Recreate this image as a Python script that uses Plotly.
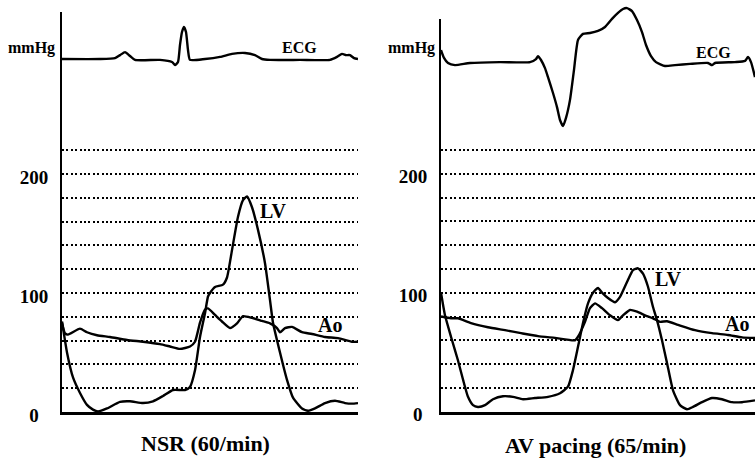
import plotly.graph_objects as go

# ---------------- data ----------------
# Left panel: NSR (60/min); time in ms, pressure in mmHg
nsr_lv_t = [0, 20, 44, 72, 100, 124, 144, 180, 232, 272, 324, 364, 404, 444, 492, 512, 532, 552, 572, 584,
            592, 612, 644, 660, 680, 704, 724, 740, 760, 784, 812, 832, 844, 872, 900, 924, 960, 984, 1012,
            1052, 1092, 1132, 1160, 1184]
nsr_lv_p = [76, 50, 29, 16, 6, 2, 0.5, 3, 8.5, 9, 7.5, 9, 13.5, 18.5, 18.5, 21, 35, 63, 83, 97,
            100, 105, 107, 113, 136, 164, 178, 181, 172, 153, 125, 94, 75, 50, 27, 12, 3, 1, 3,
            7.5, 9.5, 7.5, 7, 7.5]
nsr_ao_t = [0, 12, 24, 72, 100, 140, 192, 260, 324, 392, 432, 472, 512, 532, 552, 572, 584, 612, 640, 672,
            700, 724, 760, 800, 832, 860, 872, 892, 920, 960, 1000, 1052, 1104, 1160, 1184]
nsr_ao_p = [75, 66, 65, 70, 67, 64.5, 63, 60.5, 59, 57, 55, 53, 55, 59, 75, 86, 87, 81.5, 76, 70.5,
            74.5, 80.5, 79, 76.5, 74.5, 70.5, 67, 70.5, 71.5, 67, 65.5, 63, 62, 59, 59]
nsr_ecg_t = [0, 152, 212, 232, 252, 272, 292, 392, 440, 452, 464, 472, 480, 488, 496, 504, 512, 572, 632,
             680, 732, 772, 800, 832, 952, 1072, 1100, 1120, 1136, 1152, 1168, 1184]
nsr_ecg_v = [0, 0, 0.03, 0.13, 0.23, 0.1, -0.03, -0.03, -0.1, -0.2, -0.1, 0.47, 0.9, 1.07, 0.9, 0.3, -0.03,
             0, 0.07, 0.17, 0.2, 0.13, 0, -0.03, -0.03, -0.03, 0.07, 0.17, 0.13, 0.13, 0.03, 0]

# Right panel: AV pacing (65/min)
av_lv_t = [0, 16, 40, 68, 88, 108, 128, 148, 176, 208, 248, 288, 328, 376, 428, 476, 508, 528, 548, 568,
           588, 608, 628, 644, 668, 696, 716, 744, 768, 788, 808, 828, 848, 864, 884, 904, 928, 956, 984,
           1008, 1044, 1084, 1124, 1164, 1204, 1256]
av_lv_p = [100, 81, 63, 43, 27, 12.5, 5.5, 4, 5.5, 10.5, 13, 12.5, 10.5, 11.5, 12.5, 15.5, 21, 35, 54.5, 74.5,
           91, 100, 104, 100, 95.5, 92, 96.5, 109, 119, 120.5, 116, 105, 88, 77, 60, 41, 18, 5.5, 2,
           4, 8, 11.5, 10.5, 8, 8, 9.5]
av_ao_t = [0, 40, 68, 120, 188, 256, 320, 388, 456, 536, 548, 576, 596, 616, 644, 676, 708, 728, 756, 784,
           816, 848, 876, 904, 948, 1016, 1084, 1148, 1204, 1256]
av_ao_p = [80, 78.5, 78.5, 74.5, 71, 68.5, 66, 63.5, 62, 60, 63, 75.5, 87, 91, 87, 81, 77, 81, 85.5, 84,
           81, 78.5, 75.5, 76, 73, 68.5, 66, 64.5, 62.5, 62]
av_ecg_t = [0, 12, 28, 56, 116, 236, 356, 380, 388, 400, 416, 428, 448, 464, 476, 488, 500, 516, 532, 548,
            568, 596, 628, 656, 684, 708, 728, 744, 764, 784, 804, 820, 840, 860, 896, 936, 996, 1068,
            1084, 1096, 1176, 1216, 1228, 1240, 1256]
av_ecg_v = [0.43, 0.17, 0, -0.07, 0, 0.03, 0.03, 0.13, 0.23, 0.1, -0.17, -0.47, -1.0, -1.47, -1.9, -2.1,
            -1.83, -1.23, -0.23, 0.77, 0.97, 1.0, 1.07, 1.2, 1.47, 1.67, 1.8, 1.83, 1.73, 1.43, 1.03, 0.6,
            0.23, 0.03, -0.1, -0.07, -0.03, 0, -0.07, 0, 0.03, 0.07, 0.2, 0.03, -0.47]

tick_vals = [0, 100, 200]
grid_vals = [20, 40, 60, 80, 120, 140, 160, 180, 220]
panel_titles = ["NSR (60/min)", "AV pacing (65/min)"]

# ---------------- figure ----------------
W, H = 755, 466
FONT = "Liberation Serif"
LW = 2.4

fig = go.Figure()

def line(x, y, xa, ya):
    fig.add_trace(go.Scatter(x=x, y=y, mode="lines", xaxis=xa, yaxis=ya,
                             line=dict(color="black", width=LW, shape="spline", smoothing=0.5),
                             hoverinfo="skip"))

line(nsr_ecg_t, nsr_ecg_v, "x", "y3")
line(nsr_ao_t, nsr_ao_p, "x", "y")
line(nsr_lv_t, nsr_lv_p, "x", "y")
line(av_ecg_t, av_ecg_v, "x2", "y4")
line(av_ao_t, av_ao_p, "x2", "y2")
line(av_lv_t, av_lv_p, "x2", "y2")

def px_x(p):
    return p / W

def px_y(p):
    return 1 - p / H

grid_dash = "2px,2.4px"

def pressure_axis(domain, anchor, top, ticktext):
    return dict(domain=domain, anchor=anchor, range=[0, top], automargin=False,
                tickvals=tick_vals, ticktext=ticktext, ticks="",
                ticklabelstandoff=8, ticklabelshift=3,
                tickfont=dict(family=FONT, size=19, color="black", weight="bold"),
                showline=True, linecolor="black", linewidth=2,
                showgrid=True, gridcolor="black", gridwidth=1.8, griddash=grid_dash,
                zeroline=False,
                minor=dict(tickvals=grid_vals, showgrid=True, gridcolor="black",
                           gridwidth=1.8, griddash=grid_dash, ticks=""),
                fixedrange=True)

def time_axis(domain, anchor, rng):
    return dict(domain=domain, anchor=anchor, range=rng, showline=True, linecolor="black",
                linewidth=2.5, showgrid=False, zeroline=False, showticklabels=False, ticks="",
                automargin=False, fixedrange=True)

ecg_dom = [px_y(140), 1.0]

fig.update_layout(
    width=W, height=H, autosize=False,
    margin=dict(l=0, r=0, t=0, b=0, pad=0),
    paper_bgcolor="white", plot_bgcolor="white",
    showlegend=False,
    xaxis=time_axis([px_x(62), px_x(358)], "y", [0, 1184]),
    xaxis2=time_axis([px_x(441), 1.0], "y2", [0, 1256]),
    yaxis=pressure_axis([px_y(412), px_y(12)], "x", 336,
                        ["0\u00a0\u00a0", "100", "200"]),
    yaxis2=pressure_axis([px_y(411.7), px_y(19)], "x2", 330,
                         ["0\u00a0", "100", "200"]),
    yaxis3=dict(domain=ecg_dom, anchor="x", range=[-2.7, 59 / 30], visible=False, fixedrange=True),
    yaxis4=dict(domain=ecg_dom, anchor="x2", range=[63 / 30 - 140 / 30, 63 / 30], visible=False,
                fixedrange=True),
)

def label(text, x, y, size):
    fig.add_annotation(text=text, x=px_x(x), y=px_y(y), xref="paper", yref="paper",
                       xanchor="center", yanchor="middle", showarrow=False,
                       font=dict(family=FONT, size=size, color="black", weight="bold"))

label("mmHg", 31.5, 48, 16)
label("mmHg", 411, 48, 16)
label("ECG", 299.5, 48, 16)
label("ECG", 713.5, 52, 16)
label("LV", 273.5, 211, 20)
label("LV", 668, 279, 20)
label("Ao", 330, 325, 20)
label("Ao", 736.5, 324, 20)
label(panel_titles[0], 205, 443, 22)
label(panel_titles[1], 595, 445, 22)

fig.write_html("out.html", config={"responsive": False})
